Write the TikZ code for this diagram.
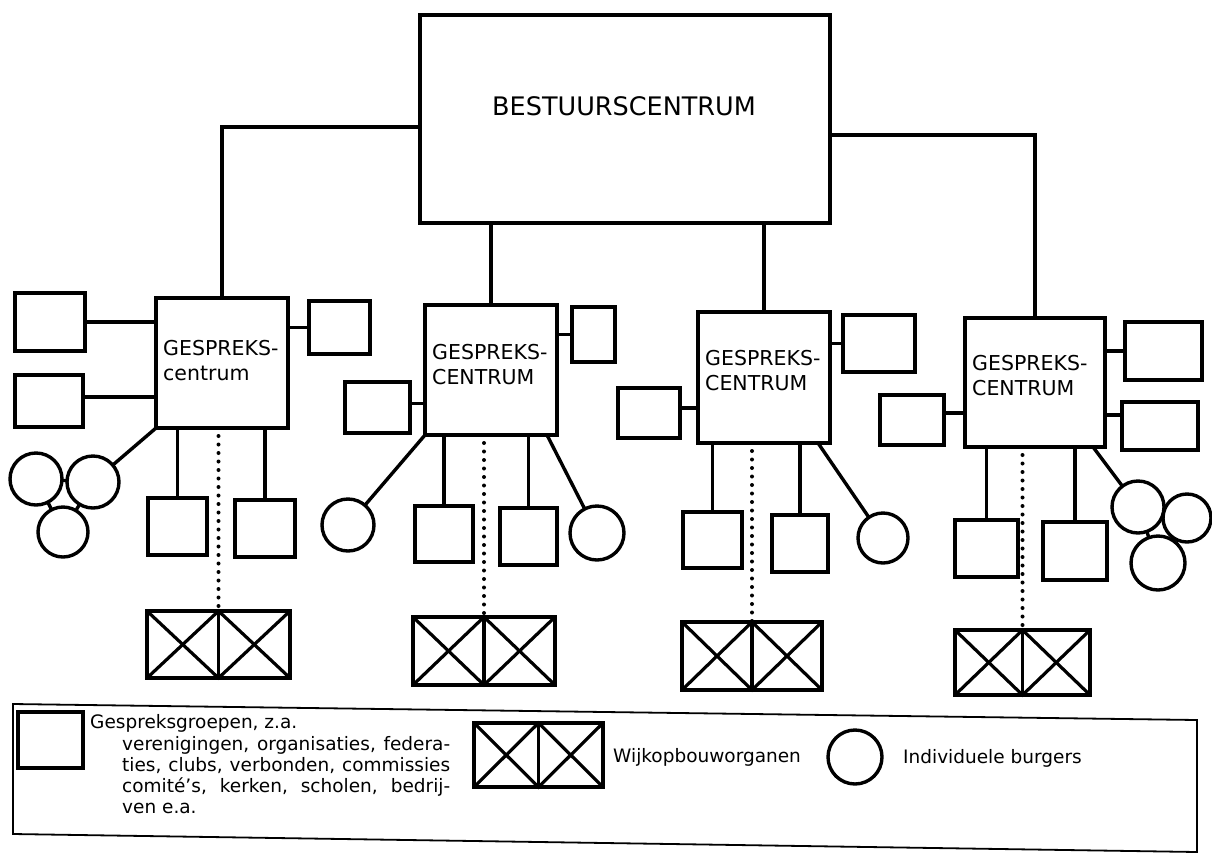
\documentclass[tikz,border=0pt]{standalone}
\usepackage{fontspec}
\setmainfont{DejaVu Sans}
\tikzset{
  gbox/.style={draw, line width=4pt, inner sep=0pt, outer sep=0pt},
  conn/.style={line width=3.4pt},
  xline/.style={line width=3.2pt},
  dotline/.style={line width=4pt, line cap=round, dash pattern=on 0pt off 8.5pt, shorten <=8pt},
  person/.style={draw, circle, line width=3.4pt, inner sep=0pt, outer sep=0pt},
  gclabel/.style={font=\fontsize{20.5}{25}\selectfont, align=left, inner sep=0pt, anchor=north west},
  ltext/.style={font=\fontsize{18.5}{22}\selectfont, inner sep=0pt, anchor=base west},
  frame/.style={line width=1.8pt}
}
\newcommand{\bx}[5]{\node[gbox, minimum width={#4-#2}, minimum height={#5-#3}] (#1) at ({(#2+#4)/2},{(#3+#5)/2}) {};}
\newcommand{\cir}[4]{\node[person, minimum size={2*#4}] (#1) at (#2,#3) {};}
\newcommand{\xx}[5]{\bx{#1}{#2}{#3}{#4}{#5}
  \draw[xline] (#1.north) -- (#1.south);
  \draw[xline] (#1.north west) -- (#1.south) -- (#1.north east);
  \draw[xline] (#1.south west) -- (#1.north) -- (#1.south east);}
\begin{document}
\begin{tikzpicture}[x=1pt,y=-1pt]
\useasboundingbox (0,0) rectangle (1212,855);

% top
\bx{T}{420}{15}{830}{223}
\node[font=\fontsize{25.5}{30}\selectfont, inner sep=0pt] (tl) at (624,106) {BESTUURSCENTRUM};

% conversation centres
\bx{G1}{156}{298}{288}{428}
\bx{G2}{425}{305}{557}{435}
\bx{G3}{698}{312}{830}{443}
\bx{G4}{965}{318}{1105}{447}
\node[gclabel] (g1t) at ([xshift=7pt,yshift=-42pt]G1.north west) {GESPREKS-\\centrum};
\node[gclabel] (g2t) at ([xshift=7pt,yshift=-39pt]G2.north west) {GESPREKS-\\CENTRUM};
\node[gclabel] (g3t) at ([xshift=7pt,yshift=-38pt]G3.north west) {GESPREKS-\\CENTRUM};
\node[gclabel] (g4t) at ([xshift=7pt,yshift=-37pt]G4.north west) {GESPREKS-\\CENTRUM};

\draw[conn] ([yshift=-8pt]T.west) -| (G1.north);
\draw[conn] ([yshift=-16pt]T.east) -| (G4.north);
\draw[conn] (T.south -| G2.north) -- (G2.north);
\draw[conn] (T.south -| G3.north) -- (G3.north);

% group 1
\bx{L1a}{15}{293}{85}{351}
\bx{L1b}{15}{375}{83}{427}
\bx{R1}{309}{301}{370}{354}
\bx{B1a}{148}{498}{207}{555}
\bx{B1b}{235}{500}{295}{557}
\xx{X1}{147}{611}{290}{678}
\cir{c1a}{36}{479}{26}
\cir{c1b}{93}{482}{26}
\cir{c1c}{63}{532}{25}
\draw[conn] (L1a.east) -- (L1a.east -| G1.west);
\draw[conn] ([yshift=4pt]L1b.east) -- ([yshift=4pt]L1b.east -| G1.west);
\draw[conn] (R1.west) -- (R1.west -| G1.east);
\draw[conn] (G1.south -| B1a.north) -- (B1a.north);
\draw[conn] (G1.south -| B1b.north) -- (B1b.north);
\draw[conn] (G1.south west) -- (c1b);
\draw[conn] (c1a) -- (c1b);
\draw[conn] (c1a) -- (c1c);
\draw[conn] (c1b) -- (c1c);
\draw[dotline] (G1.south -| X1.north) -- (X1.north);

% group 2
\bx{L2}{345}{382}{410}{433}
\bx{R2}{572}{307}{615}{362}
\bx{B2a}{415}{506}{473}{562}
\bx{B2b}{500}{508}{557}{565}
\xx{X2}{413}{617}{555}{685}
\cir{c2a}{348}{525}{26}
\cir{c2b}{597}{533}{27}
\draw[conn] ([yshift=4pt]L2.east) -- ([yshift=4pt]L2.east -| G2.west);
\draw[conn] (R2.west) -- (R2.west -| G2.east);
\draw[conn] (G2.south -| B2a.north) -- (B2a.north);
\draw[conn] (G2.south -| B2b.north) -- (B2b.north);
\draw[conn] (G2.south west) -- (c2a);
\draw[conn] ([xshift=-10pt]G2.south east) -- (c2b);
\draw[dotline] (G2.south -| X2.north) -- (X2.north);

% group 3
\bx{L3}{618}{388}{680}{438}
\bx{R3}{843}{315}{915}{372}
\bx{B3a}{683}{512}{742}{568}
\bx{B3b}{772}{515}{828}{572}
\xx{X3}{682}{622}{822}{690}
\cir{c3}{883}{538}{25}
\draw[conn] ([yshift=5pt]L3.east) -- ([yshift=5pt]L3.east -| G3.west);
\draw[conn] (R3.west) -- (R3.west -| G3.east);
\draw[conn] (G3.south -| B3a.north) -- (B3a.north);
\draw[conn] (G3.south -| B3b.north) -- (B3b.north);
\draw[conn] ([xshift=-12pt]G3.south east) -- (c3);
\draw[dotline] (G3.south -| X3.north) -- (X3.north);

% group 4
\bx{L4}{880}{395}{944}{445}
\bx{R4a}{1125}{322}{1202}{380}
\bx{R4b}{1122}{402}{1198}{450}
\bx{B4a}{955}{520}{1018}{577}
\bx{B4b}{1043}{522}{1107}{580}
\xx{X4}{955}{630}{1090}{695}
\cir{c4a}{1138}{507}{26}
\cir{c4b}{1187}{518}{24}
\cir{c4c}{1158}{563}{27}
\draw[conn] ([yshift=7pt]L4.east) -- ([yshift=7pt]L4.east -| G4.west);
\draw[conn] (R4a.west) -- (R4a.west -| G4.east);
\draw[conn] ([yshift=11pt]R4b.west) -- ([yshift=11pt]R4b.west -| G4.east);
\draw[conn] (G4.south -| B4a.north) -- (B4a.north);
\draw[conn] (G4.south -| B4b.north) -- (B4b.north);
\draw[conn] ([xshift=-12pt]G4.south east) -- (c4a);
\draw[conn] (c4a) -- (c4b);
\draw[conn] (c4a) -- (c4c);
\draw[conn] (c4b) -- (c4c);
\draw[dotline] (G4.south -| X4.north) -- (X4.north);

% legend
\draw[frame] (13,704) -- (1197,720) -- (1197,852) -- (13,834) -- cycle;
\bx{lg1}{18}{712}{83}{768}
\node[ltext] (lt1) at (90,728) {Gespreksgroepen, z.a.};
\node[ltext] (lt2) at (122,750) {\makebox[328pt][s]{verenigingen, organisaties, federa-}};
\node[ltext] (lt3) at (122,771) {\makebox[328pt][s]{ties, clubs, verbonden, commissies}};
\node[ltext] (lt4) at (122,792) {\makebox[328pt][s]{comité’s, kerken, scholen, bedrij-}};
\node[ltext] (lt5) at (122,813) {ven e.a.};
\xx{lg2}{474}{723}{603}{787}
\node[ltext] (lt6) at (613,762) {Wijkopbouworganen};
\cir{lg3}{855}{757}{27}
\node[ltext] (lt7) at (903,763) {Individuele burgers};
\end{tikzpicture}
\end{document}
